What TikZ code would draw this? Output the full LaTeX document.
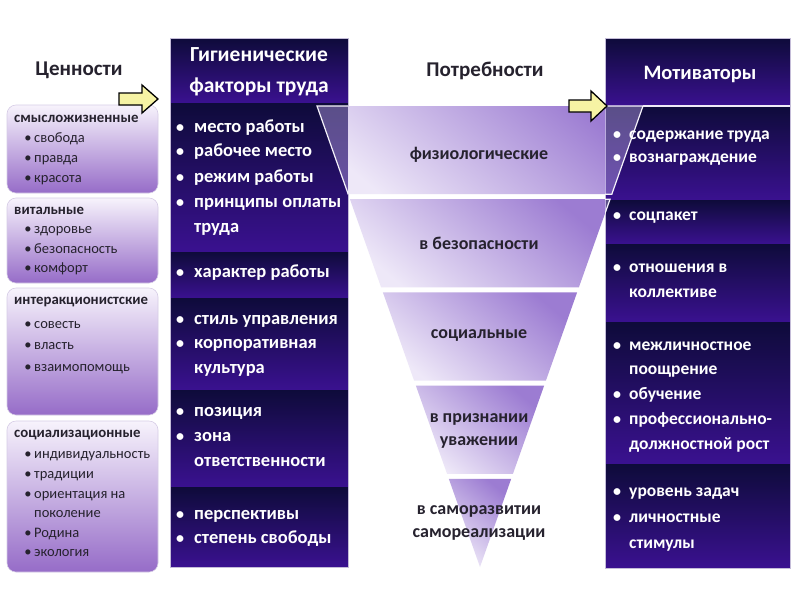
\documentclass[tikz,border=0pt]{standalone}
\usepackage{fontspec}
\setmainfont{Carlito}
\definecolor{secTop}{HTML}{0E0B3A}
\definecolor{secBot}{HTML}{3A1190}
\definecolor{colEdge}{HTML}{C4BCD8}
\definecolor{lbTop}{HTML}{F7F3FC}
\definecolor{lbBot}{HTML}{966CC8}
\definecolor{lbEdge}{HTML}{D6CCE6}
\definecolor{pyDark}{HTML}{9C7CD2}
\definecolor{pyLight}{HTML}{EEE8F8}
\definecolor{pyOver}{HTML}{B8A2E8}
\definecolor{arrYel}{HTML}{F6F3A4}
\definecolor{txtDark}{HTML}{26222E}
\begin{document}
\begin{tikzpicture}[x=1pt,y=-1pt,
  colsec/.style={top color=secTop, bottom color=secBot, draw=none},
  colframe/.style={draw=colEdge, line width=0.8pt},
  hdr/.style={text=white, font=\fontsize{21.5}{31}\selectfont\bfseries, align=center, inner sep=0},
  coltxt/.style={text=white, font=\fontsize{18.5}{20}\selectfont\bfseries, anchor=west, inner sep=0, text height=0.7em, text depth=0.2em},
  mottxt/.style={coltxt, font=\fontsize{17.5}{20}\selectfont\bfseries},
  colbul/.style={text=white, font=\fontsize{16}{20}\selectfont\bfseries, inner sep=0, text height=0.7em, text depth=0.2em},
  lbox/.style={rounded corners=9pt, top color=lbTop, bottom color=lbBot, draw=lbEdge, line width=0.6pt},
  lhead/.style={text=txtDark, font=\fontsize{14.8}{16}\selectfont\bfseries, anchor=west, inner sep=0, text height=0.7em, text depth=0.2em},
  litem/.style={text=txtDark, font=\fontsize{14.5}{16}\selectfont, anchor=west, inner sep=0, text height=0.7em, text depth=0.2em},
  lbul/.style={text=txtDark, font=\fontsize{14.5}{16}\selectfont, inner sep=0, text height=0.7em, text depth=0.2em},
  title/.style={text=txtDark, font=\fontsize{21}{24}\selectfont\bfseries, inner sep=0},
  band/.style={top color=pyDark, bottom color=pyLight, shading angle=-40, draw=none},
  ptxt/.style={text=txtDark, font=\fontsize{18}{23}\selectfont\bfseries, align=center, inner sep=0},
  yarrow/.style={fill=arrYel, draw=black, line width=1.3pt, line join=miter}
]
\useasboundingbox (0,0) rectangle (800,600);
\fill[white] (0,0) rectangle (800,600);

% ---------- titles
\node[title] (tval) at (79,70) {Ценности};
\node[title] (tneed) at (485,71) {Потребности};

% ---------- left boxes
\path[lbox] (7,105) rectangle (158,193);
\path[lbox] (7,198) rectangle (158,283);
\path[lbox] (7,288) rectangle (158,415);
\path[lbox] (7,421) rectangle (158,572);

\foreach \y/\t [count=\i] in {120/смысложизненные,212/витальные,302/интеракционистские,435/социализационные}
  \node[lhead] (lh\i) at (14,\y) {\t};
\foreach \y/\t/\b [count=\i] in {140/свобода/1,160/правда/1,180/красота/1,
    231/здоровье/1,251/безопасность/1,270/комфорт/1,
    326/совесть/1,347/власть/1,369/взаимопомощь/1,
    456/индивидуальность/1,476/традиции/1,496/ориентация на/1,515/поколение/0,535/Родина/1,554/экология/1}{
  \node[litem] (li\i) at (34,\y) {\t};
  \ifnum\b=1 \node[lbul] (lb\i) at (28,\y) {•};\fi
}

% ---------- hygiene column
\path[colsec] (170,38) rectangle (348,103);
\path[colsec] (170,103) rectangle (348,252);
\path[colsec] (170,252) rectangle (348,298);
\path[colsec] (170,298) rectangle (348,390);
\path[colsec] (170,390) rectangle (348,487);
\path[colsec] (170,487) rectangle (348,567);
\path[colframe] (170,38) rectangle (348,567);

% ---------- motivators column
\path[colsec] (605,38) rectangle (790,106);
\path[colsec] (605,106) rectangle (790,200);
\path[colsec] (605,200) rectangle (790,244);
\path[colsec] (605,244) rectangle (790,322);
\path[colsec] (605,322) rectangle (790,464);
\path[colsec] (605,464) rectangle (790,568);
\path[colframe] (605,38) rectangle (790,568);

% ---------- pyramid
\begin{scope}
  \clip (348,0) rectangle (605,600);
  \path[band] (317,106) -- (643,106) -- (611.8,194.2) -- (348.2,194.2) -- cycle;
  \path[band] (349.95,199.2) -- (610.05,199.2) -- (578.86,287.4) -- (381.14,287.4) -- cycle;
\end{scope}
\path[band] (382.91,292.4) -- (577.09,292.4) -- (545.91,380.6) -- (414.09,380.6) -- cycle;
\path[band] (415.86,385.6) -- (544.14,385.6) -- (512.95,473.8) -- (447.05,473.8) -- cycle;
\path[band] (448.81,478.8) -- (511.19,478.8) -- (480,567) -- cycle;
% overlap of the top bands with the columns
\begin{scope}
  \clip (170,0) rectangle (348,600) (605,0) rectangle (790,600);
  \path[fill=pyOver, fill opacity=0.45, draw=white!90!pyDark, line width=1.2pt]
     (317,106) -- (643,106) -- (611.8,194.2) -- (348.2,194.2) -- cycle;
  \path[fill=pyOver, fill opacity=0.45, draw=white!90!pyDark, line width=1.2pt]
     (349.95,199.2) -- (610.05,199.2) -- (578.86,287.4) -- (381.14,287.4) -- cycle;
\end{scope}
\coordinate (ptr) at (643,106);
\coordinate (mre) at (790,106);
\draw[white!85!pyDark, line width=1.2pt] (ptr) -- (mre);

\node[ptxt] (p1) at (479,155) {физиологические};
\node[ptxt] (p2) at (479,243) {в безопасности};
\node[ptxt] (p3) at (479,335) {социальные};
\node[ptxt] (p4) at (479,431) {в признании\\уважении};
\node[ptxt] (p5) at (479,523) {в саморазвитии\\самореализации};

% ---------- column headers
\node[hdr] (hh) at (259,72) {Гигиенические\\факторы труда};
\node[hdr, font=\fontsize{20.5}{24}\selectfont\bfseries] (mh) at (700,74) {Мотиваторы};

% ---------- hygiene items
\foreach \y/\t/\b [count=\i] in {130/место работы/1,154/рабочее место/1,180/режим работы/1,205/принципы оплаты/1,230/труда/0,
    275/характер работы/1,
    322/стиль управления/1,346/корпоративная/1,371/культура/0,
    414/позиция/1,439/зона/1,464/ответственности/0,
    517/перспективы/1,541/степень свободы/1}{
  \node[coltxt] (hy\i) at (194,\y) {\t};
  \ifnum\b=1 \node[colbul] (hb\i) at (180,\y) {•};\fi
}

% ---------- motivator items
\foreach \y/\t/\b [count=\i] in {137/содержание труда/1,160/вознаграждение/1,
    218/соцпакет/1,
    270/отношения в/1,295/коллективе/0,
    348/межличностное/1,372/поощрение/0,397/обучение/1,422/профессионально-/1,447/должностной рост/0,
    494/уровень задач/1,520/личностные/1,546/стимулы/0}{
  \node[mottxt] (mo\i) at (629,\y) {\t};
  \ifnum\b=1 \node[colbul] (mb\i) at (617,\y) {•};\fi
}

% ---------- yellow arrows
\draw[yarrow] (119,93) -- (142,93) -- (142,85) -- (158,99) -- (142,113) -- (142,105) -- (119,105) -- cycle;
\draw[yarrow] (569,100) -- (591,100) -- (591,91) -- (607,106) -- (591,121) -- (591,112) -- (569,112) -- cycle;
\end{tikzpicture}
\end{document}
